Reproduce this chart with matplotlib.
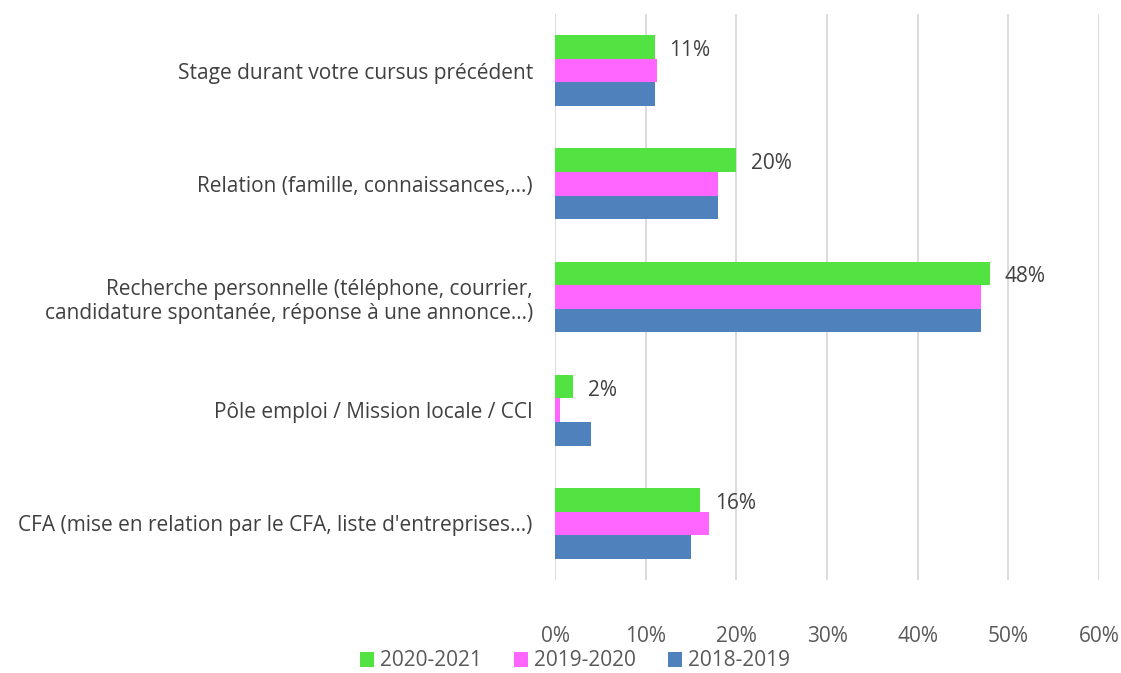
import numpy as np
import matplotlib.pyplot as plt
from matplotlib.ticker import FuncFormatter

plt.rcParams['font.family'] = ['Open Sans', 'DejaVu Sans']

categories = ["Stage durant votre cursus précédent",
              "Relation (famille, connaissances,...)",
              "Recherche personnelle (téléphone, courrier,\ncandidature spontanée, réponse à une annonce...)",
              "Pôle emploi / Mission locale / CCI",
              "CFA (mise en relation par le CFA, liste d'entreprises...)"]
series = ["2020-2021", "2019-2020", "2018-2019"]
v2021 = [11.0, 20.0, 48.0, 2.0, 16.0]
v2020 = [11.3, 18.0, 47.0, 0.5, 17.0]
v2019 = [11.0, 18.0, 47.0, 4.0, 15.0]
labels_2021 = ["11%", "20%", "48%", "2%", "16%"]
colors = ["#52E343", "#FF66FF", "#4F81BD"]

fs = 15
fig = plt.figure(figsize=(11.21, 6.73), dpi=100)
ax = fig.add_axes([555 / 1121, 1 - 580 / 673, 544 / 1121, 566 / 673])

y = np.arange(len(categories))
h = 0.208
for i, (vals, c, name) in enumerate(zip([v2021, v2020, v2019], colors, series)):
    ax.barh(y + (i - 1) * h, vals, height=h, color=c, label=name, zorder=3)

for yi, v, t in zip(y, v2021, labels_2021):
    ax.text(v + 1.6, yi - h * 0.85, t, va='center', ha='left', fontsize=fs, color='#404040')

ax.set_yticks(y)
ax.set_yticklabels(categories, fontsize=fs, color='#404040', ha='right', linespacing=1.25)
ax.set_ylim(len(categories) - 0.5, -0.5)
ax.set_xlim(0, 60)
ax.set_xticks(np.arange(0, 61, 10))
ax.xaxis.set_major_formatter(FuncFormatter(lambda v, p: f"{v:.0f}%"))
ax.tick_params(axis='x', labelsize=fs, colors='#595959', length=0, pad=33)
ax.tick_params(axis='y', length=0, pad=16)
ax.grid(axis='x', color='#D9D9D9', linewidth=1.3, zorder=0)
for s in ax.spines.values():
    s.set_visible(False)

for lbl in ax.get_yticklabels():
    lbl.set_multialignment('right')

fig.legend(loc='center', bbox_to_anchor=(575 / 1121, 1 - 661 / 673), ncol=3, frameon=False,
           fontsize=fs, handlelength=0.7, handleheight=0.7, handletextpad=0.3,
           columnspacing=1.5, labelcolor='#595959', borderpad=0.1)

fig.savefig("out.png", dpi=100)
